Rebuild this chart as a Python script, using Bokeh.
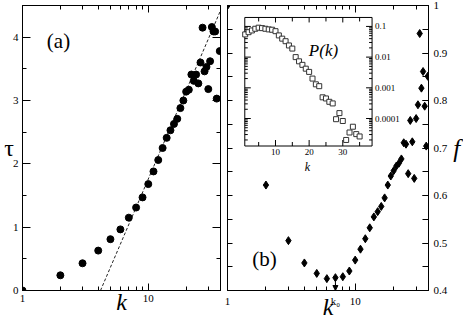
from bokeh.plotting import figure
from bokeh.models import (Range1d, LinearAxis, LogAxis, SingleIntervalTicker, FixedTicker,
                          CustomJSTickFormatter, Label, Arrow, NormalHead,
                          LinearScale, LogScale)
from bokeh.layouts import row
from bokeh.embed import file_html
from bokeh.resources import INLINE
from bokeh.core.properties import value

# ---------------- data ----------------
# panel (a): tau vs k
k_tau = [1, 2, 3, 4, 5, 6, 7, 8, 9, 10, 11, 12, 13, 14, 15, 16, 17, 18, 19, 20,
         21, 22, 23, 24, 25, 26, 27, 28, 29, 30, 31, 32, 33, 34, 35, 37]
tau = [0.0, 0.24, 0.43, 0.63, 0.81, 0.965, 1.15, 1.31, 1.47, 1.68, 1.88, 2.06, 2.25,
       2.41, 2.53, 2.63, 2.71, 2.88, 3.0, 3.14, 3.17, 3.41, 3.31, 3.41, 3.27, 3.60,
       4.15, 3.46, 3.53, 3.18, 3.62, 4.16, 4.09, 4.09, 3.03, 3.78]
fit_k = [4.17, 37.5]
fit_tau = [0.0, 4.42]

# panel (b): f vs k
k_f = list(range(1, 38))
f_vals = [1.0, 0.622, 0.505, 0.458, 0.436, 0.425, 0.427, 0.429, 0.441, 0.464, 0.487,
          0.509, 0.532, 0.555, 0.566, 0.577, 0.595, 0.622, 0.641, 0.652, 0.662, 0.668,
          0.677, 0.711, 0.708, 0.646, 0.758, 0.713, 0.636, 0.762, 0.791, 0.941, 0.826,
          0.861, 0.788, 0.704, 0.851]
k0 = 7
k0_label = "k\u2080"

# inset: P(k)
k_P = list(range(1, 36))
P_vals = [0.055, 0.065, 0.074, 0.084, 0.091, 0.088, 0.084, 0.080, 0.078, 0.070, 0.051,
          0.040, 0.033, 0.024, 0.019, 0.010, 0.0073, 0.0056, 0.0042, 0.0033, 0.0020,
          0.0013, 0.00113, 0.00049, 0.00045, 0.00035, 0.00031, 9.5e-5, 1.5e-4, 8.3e-5,
          2.0e-5, 3.5e-5, 5.4e-5, 3.1e-5, 2.6e-5]

log_major = [1, 10]
log_minor = [2, 3, 4, 5, 6, 7, 8, 9, 20, 30]
inset_x_major = [10, 20, 30]
inset_x_major_labels = ["10", "20", "30"]
inset_x_minor = [5, 15, 25, 35]
inset_y_major = [1e-4, 1e-3, 1e-2, 1e-1]
inset_y_major_labels = ["0.0001", "0.001", "0.01", "0.1"]
inset_xlim = (0.88, 38.7)
inset_ylim = (1.27e-5, 0.196)

FONT = "Liberation Serif, Times New Roman, serif"


def style_axis(ax, labels=True, major_in=6, minor_in=3, standoff=4):
    ax.major_tick_in = major_in
    ax.major_tick_out = 0
    ax.minor_tick_in = minor_in
    ax.minor_tick_out = 0
    ax.axis_line_color = "black"
    ax.major_tick_line_color = "black"
    ax.minor_tick_line_color = "black"
    ax.major_label_text_font = FONT
    ax.major_label_text_font_size = "11px"
    ax.major_label_text_color = "black"
    ax.major_label_standoff = standoff
    ax.axis_label = None
    if not labels:
        ax.major_label_text_font_size = "0px"
        ax.major_label_standoff = 0
        ax.formatter = CustomJSTickFormatter(code="return '';")


def axis_title(ax, text, size, italic, standoff, horizontal=False):
    ax.axis_label = text
    ax.axis_label_text_font = FONT
    ax.axis_label_text_font_size = size
    ax.axis_label_text_font_style = "italic" if italic else "normal"
    ax.axis_label_text_color = "black"
    ax.axis_label_standoff = standoff
    if horizontal:
        ax.axis_label_orientation = "horizontal"


def label(p, text, x, y, size, italic=False, align="center", baseline="middle"):
    p.add_layout(Label(x=x, y=y, x_units="screen", y_units="screen", text=text,
                       text_font=FONT, text_font_size=size,
                       text_font_style="italic" if italic else "normal",
                       text_align=align, text_baseline=baseline, text_color="black"))


def num_fmt():
    return CustomJSTickFormatter(code="return Number(tick.toFixed(2)).toString();")


def log_ticker(extra=()):
    return FixedTicker(ticks=sorted(log_major + list(extra)), minor_ticks=log_minor)


# ---------------- panel (a) ----------------
pa = figure(width=224, height=322, x_axis_type="log", x_range=Range1d(1, 37.5),
            y_range=Range1d(0, 4.5), min_border_left=22, min_border_right=4,
            min_border_top=5, min_border_bottom=31, output_backend="svg",
            toolbar_location=None)
pa.xgrid.visible = False
pa.ygrid.visible = False
pa.outline_line_color = "black"
pa.background_fill_color = "white"
pa.border_fill_color = "white"

style_axis(pa.xaxis[0], major_in=7, minor_in=4)
pa.xaxis[0].ticker = log_ticker()
pa.xaxis[0].formatter = num_fmt()
axis_title(pa.xaxis[0], "k", "24px", True, -16)
style_axis(pa.yaxis[0], major_in=8, minor_in=4)
pa.yaxis[0].ticker = SingleIntervalTicker(interval=1, num_minor_ticks=2)
axis_title(pa.yaxis[0], "τ", "24px", False, -4, horizontal=True)

top_a = LogAxis(ticker=log_ticker())
style_axis(top_a, labels=False, major_in=7, minor_in=4)
pa.add_layout(top_a, "above")
right_a = LinearAxis(ticker=SingleIntervalTicker(interval=1, num_minor_ticks=2))
style_axis(right_a, labels=False, major_in=8, minor_in=4)
pa.add_layout(right_a, "right")

pa.line(fit_k, fit_tau, line_dash="3 2", line_color="#222222", line_width=1)
pa.scatter(k_tau, tau, marker="circle", size=7, color="black")

label(pa, "(a)", 36, 250, "21px")

# ---------------- panel (b) ----------------
pb = figure(width=239, height=322, x_axis_type="log", x_range=Range1d(1, 37.5),
            y_range=Range1d(0.4, 1.0), y_axis_location="right",
            min_border_left=3, min_border_right=35, min_border_top=5,
            min_border_bottom=31, output_backend="svg", toolbar_location=None)
pb.xgrid.visible = False
pb.ygrid.visible = False
pb.outline_line_color = "black"
pb.background_fill_color = "white"
pb.border_fill_color = "white"

style_axis(pb.xaxis[0], major_in=7, minor_in=4)
pb.xaxis[0].ticker = log_ticker(extra=[k0])
pb.xaxis[0].formatter = CustomJSTickFormatter(
    args=dict(k0=k0, k0_label=k0_label),
    code="return tick == k0 ? k0_label : Number(tick.toFixed(2)).toString();")
axis_title(pb.xaxis[0], "k", "24px", True, -16)
style_axis(pb.yaxis[0], major_in=6, minor_in=6, standoff=5)
pb.yaxis[0].ticker = SingleIntervalTicker(interval=0.1, num_minor_ticks=2)
pb.yaxis[0].formatter = num_fmt()
axis_title(pb.yaxis[0], "f", "25px", True, 3, horizontal=True)

top_b = LogAxis(ticker=log_ticker())
style_axis(top_b, labels=False, major_in=7, minor_in=4)
pb.add_layout(top_b, "above")
left_b = LinearAxis(ticker=SingleIntervalTicker(interval=0.05, num_minor_ticks=0))
style_axis(left_b, labels=False, major_in=5, minor_in=0)
pb.add_layout(left_b, "left")

pb.scatter(k_f, f_vals, marker="diamond", size=8, color="black")

pb.add_layout(Arrow(end=NormalHead(size=5, fill_color="black", line_color="black"),
                    x_start=k0, y_start=0.4225, x_end=k0, y_end=0.4,
                    line_color="black", line_width=1))

label(pb, "(b)", 37, 32, "21px")

# ---------------- inset (drawn inside panel b) ----------------
pb.extra_x_ranges = {"ix": Range1d(-4.26, 55.47)}
pb.extra_y_ranges = {"iy": Range1d(10 ** -9.604, 10 ** -0.318)}
pb.extra_x_scales = {"ix": LinearScale()}
pb.extra_y_scales = {"iy": LogScale()}
ins = dict(x_range_name="ix", y_range_name="iy")

pb.quad(left=[inset_xlim[0]], right=[inset_xlim[1]], bottom=[inset_ylim[0]],
        top=[inset_ylim[1]], fill_color="white", line_color="black", line_width=1, **ins)

ray_kw = dict(length_units="screen", line_color="black", line_width=1, **ins)
pb.ray(x=inset_x_major, y=[inset_ylim[0]] * 3, length=6, angle=1.5708, **ray_kw)
pb.ray(x=inset_x_minor, y=[inset_ylim[0]] * 4, length=4, angle=1.5708, **ray_kw)
pb.ray(x=inset_x_major, y=[inset_ylim[1]] * 3, length=5, angle=-1.5708, **ray_kw)
pb.ray(x=inset_x_minor, y=[inset_ylim[1]] * 4, length=4, angle=-1.5708, **ray_kw)
y_minor = [m * d for d in inset_y_major + [1e-5] for m in range(2, 10)
           if inset_ylim[0] <= m * d <= inset_ylim[1]]
pb.ray(x=[inset_xlim[0]] * 4, y=inset_y_major, length=6, angle=0.0, **ray_kw)
pb.ray(x=[inset_xlim[0]] * len(y_minor), y=y_minor, length=3, angle=0.0, **ray_kw)
pb.ray(x=[inset_xlim[1]] * 4, y=inset_y_major, length=6, angle=3.14159, **ray_kw)
pb.ray(x=[inset_xlim[1]] * len(y_minor), y=y_minor, length=3, angle=3.14159, **ray_kw)

pb.text(x=inset_x_major, y=[inset_ylim[0]] * 3, text=inset_x_major_labels,
        text_font=value(FONT), text_font_size=value("9px"), text_align="center",
        text_baseline="top", y_offset=3, text_color="black", **ins)
pb.text(x=[inset_xlim[1]] * 4, y=inset_y_major, text=inset_y_major_labels,
        text_font=value(FONT), text_font_size=value("9px"), text_align="left",
        text_baseline="middle", x_offset=3, text_color="black", **ins)

pb.scatter(k_P, P_vals, marker="square", size=5, fill_color="white",
           line_color="#333333", line_width=1, **ins)

label(pb, "P(k)", 96, 240, "17px", italic=True)
label(pb, "k", 80, 124, "12px", italic=True)

layout = row(pa, pb)

open("out.html", "w").write(file_html(layout, INLINE))
